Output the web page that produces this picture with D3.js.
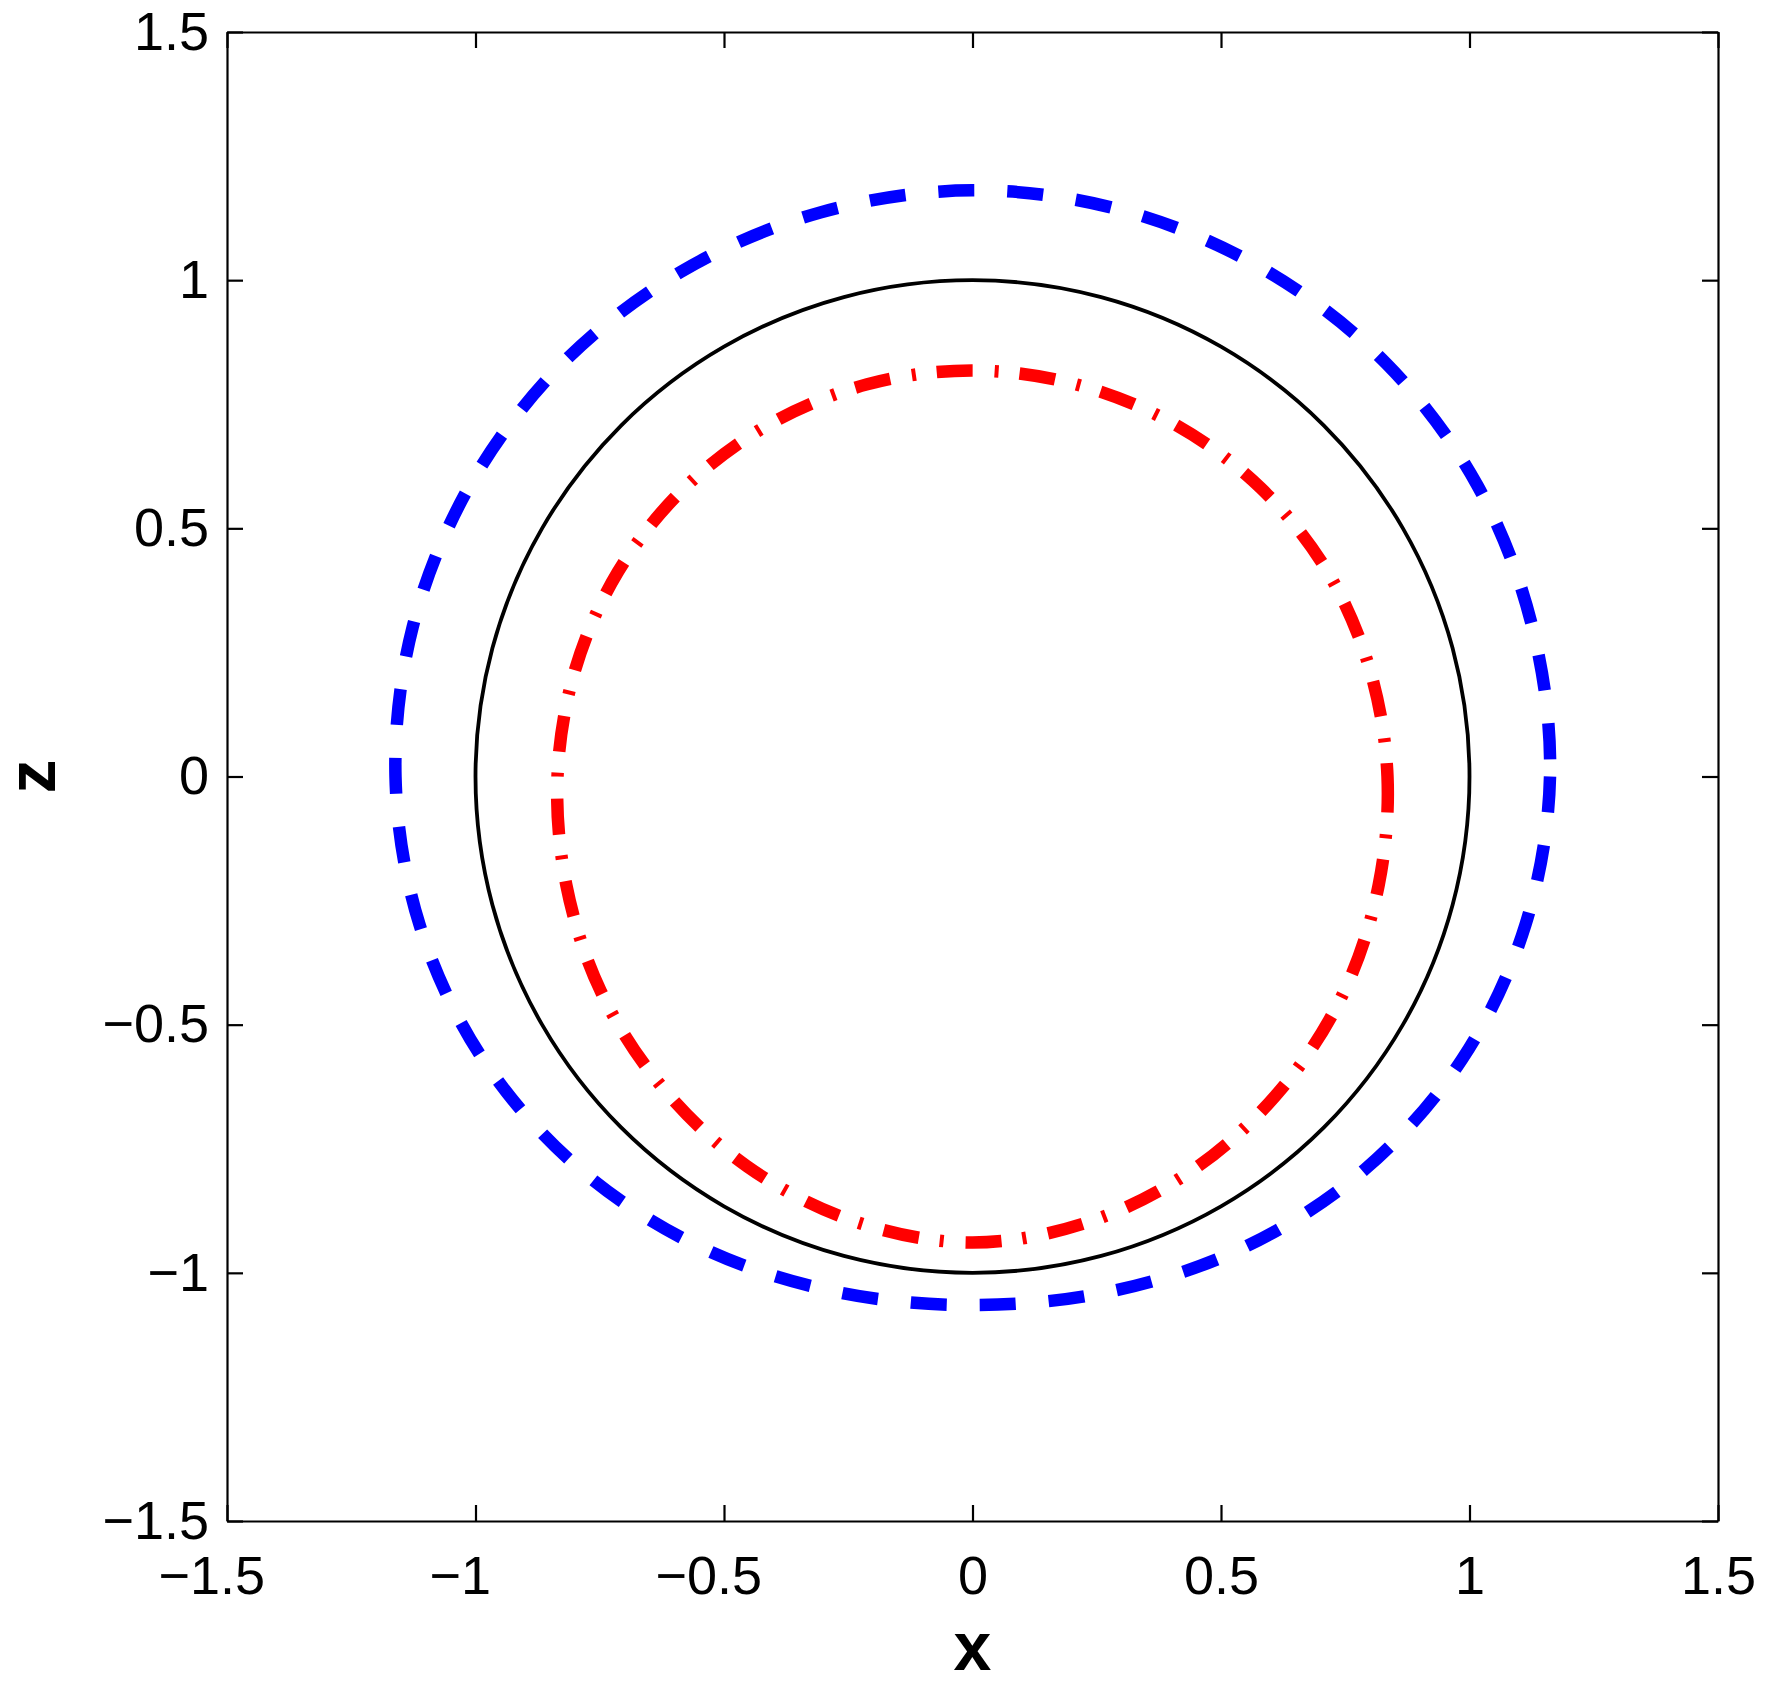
<!DOCTYPE html>
<html>
<head>
<meta charset="utf-8">
<script src="https://cdn.jsdelivr.net/npm/d3@7"></script>
<style>
  body { margin: 0; background: #fff; }
  svg { display: block; }
  text { font-family: "Liberation Sans", Arial, Helvetica, sans-serif; }
</style>
</head>
<body>
<svg id="chart" width="1772" height="1691"></svg>
<script>
// contour angles in degrees (counter-clockwise from +x), in drawing order
const angleDeg = [15, 0, -15, -30, -45, -60, -75, -90, -105, -120, -135, -150,
                  -165, 180, 165, 150, 135, 120, 105, 90, 75, 60, 45, 30];

// radius of each contour at those angles
const rBlack = [1, 1, 1, 1, 1, 1, 1, 1, 1, 1, 1, 1,
                1, 1, 1, 1, 1, 1, 1, 1, 1, 1, 1, 1];
const rBlue  = [1.166, 1.162, 1.152, 1.138, 1.118, 1.095, 1.074, 1.065, 1.074, 1.095, 1.118, 1.138,
                1.152, 1.161, 1.166, 1.169, 1.172, 1.174, 1.177, 1.181, 1.180, 1.178, 1.177, 1.173];
const rRed   = [0.828, 0.835, 0.846, 0.864, 0.884, 0.907, 0.927, 0.939, 0.927, 0.907, 0.884, 0.864,
                0.846, 0.835, 0.828, 0.824, 0.821, 0.819, 0.818, 0.818, 0.817, 0.818, 0.821, 0.825];

const xTicks = [-1.5, -1, -0.5, 0, 0.5, 1, 1.5];
const xTickLabels = ["\u22121.5", "\u22121", "\u22120.5", "0", "0.5", "1", "1.5"];
const zTicks = [-1.5, -1, -0.5, 0, 0.5, 1, 1.5];
const zTickLabels = ["\u22121.5", "\u22121", "\u22120.5", "0", "0.5", "1", "1.5"];

// plot box
const boxL = 227, boxR = 1718, boxT = 32, boxB = 1521;
const tickLen = 16;
const fontSize = 54;

const svg = d3.select("#chart");
svg.append("rect").attr("width", 1772).attr("height", 1691).attr("fill", "#fff");

const x = d3.scaleLinear().domain([-1.5, 1.5]).range([boxL, boxR]);
const z = d3.scaleLinear().domain([-1.5, 1.5]).range([boxB, boxT]);

// contours
const contour = d3.line()
        .x(d => x(d.r * Math.cos(d.a * Math.PI / 180)))
        .y(d => z(d.r * Math.sin(d.a * Math.PI / 180)))
        .curve(d3.curveCatmullRomClosed.alpha(0.5));

function pts(radii) {
        return angleDeg.map((a, i) => ({ a: a, r: radii[i] }));
}

svg.append("path")
        .attr("d", contour(pts(rBlack)))
        .attr("fill", "none")
        .attr("stroke", "#000")
        .attr("stroke-width", 3.8);

svg.append("path")
        .attr("d", contour(pts(rBlue)))
        .attr("fill", "none")
        .attr("stroke", "#0000ff")
        .attr("stroke-width", 12.5)
        .attr("stroke-dasharray", "36,33");

svg.append("path")
        .attr("d", contour(pts(rRed)))
        .attr("fill", "none")
        .attr("stroke", "#ff0000")
        .attr("stroke-width", 12.5)
        .attr("stroke-dasharray", "36,22,4,21");

// axes (ticks point inward, mirrored on top and right)
function styleAxis(g) {
        g.select(".domain").attr("stroke", "#000").attr("stroke-width", 2.2);
        g.selectAll(".tick line").attr("stroke", "#000").attr("stroke-width", 2.2);
        g.selectAll(".tick text")
                .attr("fill", "#000")
                .attr("font-size", fontSize + "px")
                .attr("font-family", "'Liberation Sans', Arial, Helvetica, sans-serif");
}

const gx = svg.append("g")
        .attr("transform", "translate(0," + boxB + ")")
        .call(d3.axisBottom(x).tickValues(xTicks)
                .tickFormat((d, i) => xTickLabels[i])
                .tickSizeInner(-tickLen).tickSizeOuter(0).tickPadding(35))
        .call(styleAxis);

svg.append("g")
        .attr("transform", "translate(0," + boxT + ")")
        .call(d3.axisTop(x).tickValues(xTicks).tickFormat("")
                .tickSizeInner(-tickLen).tickSizeOuter(0))
        .call(styleAxis);

svg.append("g")
        .attr("transform", "translate(" + boxL + ",0)")
        .call(d3.axisLeft(z).tickValues(zTicks)
                .tickFormat((d, i) => zTickLabels[i])
                .tickSizeInner(-tickLen).tickSizeOuter(0).tickPadding(18))
        .call(styleAxis);

svg.append("g")
        .attr("transform", "translate(" + boxR + ",0)")
        .call(d3.axisRight(z).tickValues(zTicks).tickFormat("")
                .tickSizeInner(-tickLen).tickSizeOuter(0))
        .call(styleAxis);

// x labels: keep the number centred on the tick, minus hanging left
const probe = svg.append("text")
        .attr("font-size", fontSize + "px")
        .text("\u2212");
const minusW = probe.node().getComputedTextLength();
probe.remove();
gx.selectAll(".tick text")
        .attr("dx", function() {
                return this.textContent.charAt(0) === "\u2212" ? -minusW / 2 : 0;
        });

// axis titles
svg.append("text")
        .attr("x", x(0))
        .attr("y", 1670)
        .attr("text-anchor", "middle")
        .attr("font-size", "68px")
        .attr("font-weight", "bold")
        .attr("fill", "#000")
        .text("x");

svg.append("text")
        .attr("transform", "translate(55," + z(0) + ") rotate(-90)")
        .attr("text-anchor", "middle")
        .attr("font-size", "68px")
        .attr("font-weight", "bold")
        .attr("fill", "#000")
        .text("z");
</script>
</body>
</html>
